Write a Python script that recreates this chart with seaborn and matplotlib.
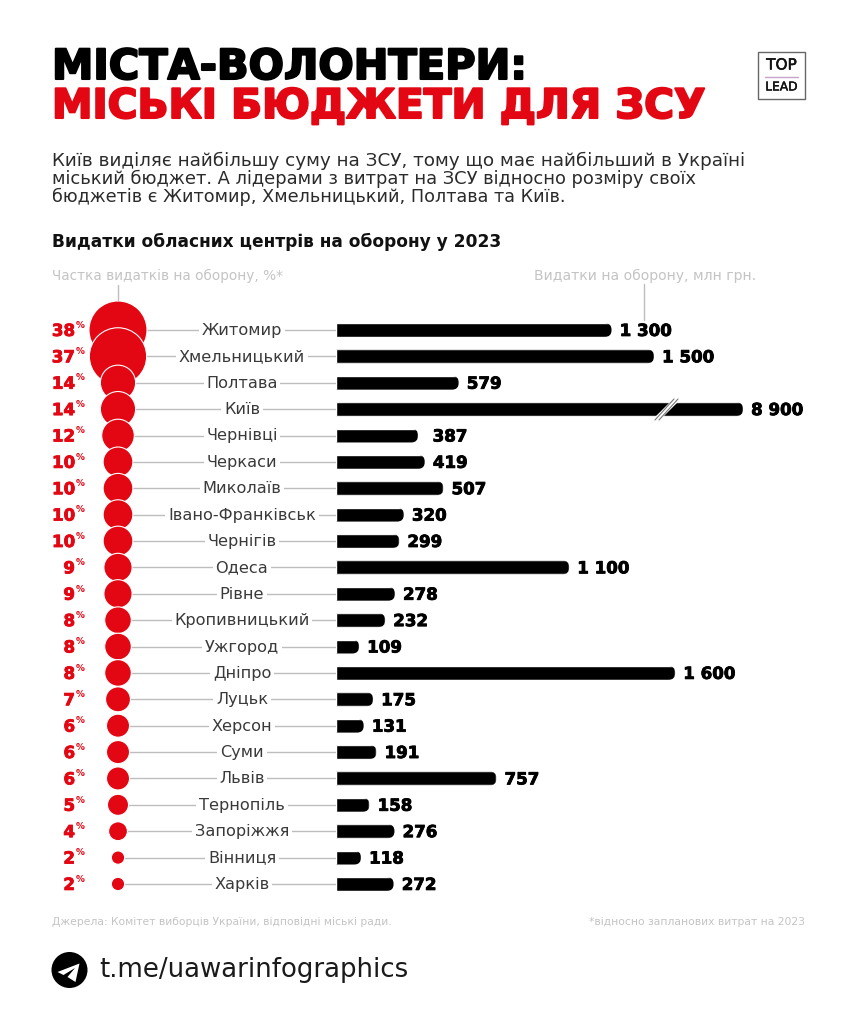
"""
Міста-волонтери: видатки обласних центрів на оборону у 2023.
Red bubbles show the defence share of the budget, black bars the spending.
"""

import matplotlib.pyplot as plt
import matplotlib.patheffects as pe
from matplotlib.patches import Circle, FancyBboxPatch, Polygon, Rectangle
from matplotlib.transforms import IdentityTransform
import numpy as np
import pandas as pd
import seaborn as sns

CITIES = ["Житомир", "Хмельницький", "Полтава", "Київ", "Чернівці", "Черкаси",
          "Миколаїв", "Івано-Франківськ", "Чернігів", "Одеса", "Рівне",
          "Кропивницький", "Ужгород", "Дніпро", "Луцьк", "Херсон", "Суми",
          "Львів", "Тернопіль", "Запоріжжя", "Вінниця", "Харків"]
SHARES = [38, 37, 14, 14, 12, 10, 10, 10, 10, 9, 9, 8, 8, 8, 7, 6, 6, 6, 5, 4, 2, 2]
SPENDING = [1300, 1500, 579, 8900, 387, 419, 507, 320, 299, 1100, 278, 232,
            109, 1600, 175, 131, 191, 757, 158, 276, 118, 272]

RED = "#e30613"
GREY_LABEL = "#c4c4c4"
GREY_LINE = "#bdbdbd"
DARK = "#3a3a3a"

W, H = 857, 1024
ROW_TOP, ROW_STEP = 330, 26.38
BAR_LEFT = 336
PX_PER_UNIT = 0.212  # bar length scale
BREAK_AT = 1920      # Kyiv's bar is cut, it would not fit
TEXT_NUDGE = -0.04   # row units, DejaVu sits a little low

sns.set_theme(style="white")
plt.rcParams["font.family"] = ["DejaVu Sans"]

df = pd.DataFrame({"city": CITIES, "share": SHARES, "spending": SPENDING})
df["drawn"] = np.minimum(df["spending"], BREAK_AT)

fig = plt.figure(figsize=(W / 100, H / 100), dpi=100, facecolor="white")

n = len(df)
top = ROW_TOP - ROW_STEP / 2
height = ROW_STEP * n
ax_bub = fig.add_axes([0, 1 - (top + height) / H, BAR_LEFT / W, height / H])
ax_bars = fig.add_axes([BAR_LEFT / W, 1 - (top + height) / H, 1 - BAR_LEFT / W, height / H])
ax_page = fig.add_axes([0, 0, 1, 1])

# bars
sns.barplot(data=df, y="city", x="drawn", color="black", saturation=1, width=0.53,
            orient="h", ax=ax_bars)
ax_bars.set_xlim(0, (W - BAR_LEFT) / PX_PER_UNIT)
ax_bars.set_ylim(n - 0.5, -0.5)
ax_bars.axis("off")

fig.canvas.draw()
for bar in ax_bars.patches:
    # round only the right end of each bar
    bb = bar.get_window_extent()
    r = bb.height / 2
    clip = FancyBboxPatch((bb.x0 - 2 * r, bb.y0), bb.width + 2 * r, bb.height,
                          boxstyle=f"round,pad=0,rounding_size={r}",
                          transform=IdentityTransform())
    bar.set_clip_path(clip)

for i, row in df.iterrows():
    label = f"{row['spending']:,}".replace(",", " ")
    gap = 10.5 if row["spending"] == 387 else 5.8
    ax_bars.annotate(label, (row["drawn"], i + TEXT_NUDGE), xytext=(gap, 0),
                     textcoords="offset points", ha="left", va="center_baseline",
                     fontsize=12, fontweight="bold", color="black", annotation_clip=False,
                     path_effects=[pe.withStroke(linewidth=0.6, foreground="black")])

# bubbles, leader lines, city names
ax_bub.hlines(range(n), 118, BAR_LEFT, color=GREY_LINE, lw=1, zorder=1)
sns.scatterplot(data=df, x=np.full(n, 118), y="city", size="share", sizes=(0, 1745),
                size_norm=(0, 38), color=RED, edgecolor="white", linewidth=0.8,
                legend=False, clip_on=False, zorder=3, ax=ax_bub)
ax_bub.set_xlim(0, BAR_LEFT)
ax_bub.set_ylim(n - 0.5, -0.5)
ax_bub.axis("off")

for i, row in df.iterrows():
    ax_bub.text(242, i + TEXT_NUDGE, row["city"], ha="center", va="center_baseline",
                fontsize=11.6, color=DARK, zorder=4,
                bbox=dict(fc="white", ec="none", pad=2))
    ax_bub.text(75, i + TEXT_NUDGE, str(row["share"]), ha="right", va="center_baseline",
                fontsize=12, fontweight="bold", color=RED, zorder=4,
                path_effects=[pe.withStroke(linewidth=0.6, foreground=RED)])
    ax_bub.annotate("%", (76, i + TEXT_NUDGE), xytext=(0, 3.4), textcoords="offset points",
                    ha="left", va="center_baseline", fontsize=6.4, fontweight="bold", color=RED)

# page furniture, in pixel coordinates
ax_page.set_xlim(0, W)
ax_page.set_ylim(H, 0)
ax_page.axis("off")

ax_page.text(52, 67, "МІСТА-ВОЛОНТЕРИ:", fontsize=29.9, fontweight="bold", color="black",
             va="center", path_effects=[pe.withStroke(linewidth=1.5, foreground="black")])
ax_page.text(52, 107, "МІСЬКІ БЮДЖЕТИ ДЛЯ ЗСУ", fontsize=29.3, fontweight="bold", color=RED,
             va="center", path_effects=[pe.withStroke(linewidth=1.5, foreground=RED)])

intro = ["Київ виділяє найбільшу суму на ЗСУ, тому що має найбільший в Україні",
         "міський бюджет. А лідерами з витрат на ЗСУ відносно розміру своїх",
         "бюджетів є Житомир, Хмельницький, Полтава та Київ."]
for y, size, line in zip([161, 179, 197], [13.2, 12.86, 12.7], intro):
    ax_page.text(52, y, line, fontsize=size, color="#2b2b2b", va="center")

ax_page.text(52, 242, "Видатки обласних центрів на оборону у 2023", fontsize=12.24,
             fontweight="bold", color="#111111", va="center")
ax_page.text(52, 276, "Частка видатків на оборону, %*", fontsize=9.77, color=GREY_LABEL, va="center")
ax_page.text(534, 276, "Видатки на оборону, млн грн.", fontsize=10.08, color=GREY_LABEL, va="center")
ax_page.plot([118.5, 118.5], [285, 300], color=GREY_LINE, lw=1)
ax_page.plot([644, 644], [284, 320], color=GREY_LINE, lw=1)

# break mark on the Kyiv bar
ax_page.plot([657, 676], [419, 400], color="white", lw=4, solid_capstyle="butt")
ax_page.plot([655, 674], [420, 399], color="#777777", lw=0.8)
ax_page.plot([659, 678], [420, 399], color="#777777", lw=0.8)

ax_page.text(52, 922, "Джерела: Комітет виборців України, відповідні міські ради.", fontsize=7.76,
             color=GREY_LABEL, va="center")
ax_page.text(805, 922, "*відносно запланових витрат на 2023", fontsize=7.76, color=GREY_LABEL,
             va="center", ha="right")

# logo
ax_page.add_patch(Rectangle((758, 52), 47, 47, fc="white", ec="#666666", lw=1))
ax_page.text(781.5, 65, "TOP", fontsize=11, ha="center", va="center", color="#111111",
             path_effects=[pe.withStroke(linewidth=0.4, foreground="#111111")])
ax_page.plot([765, 798], [77, 77], color="#c9a3c9", lw=1)
ax_page.text(781.5, 87, "LEAD", fontsize=8.8, ha="center", va="center", color="#111111",
             path_effects=[pe.withStroke(linewidth=0.3, foreground="#111111")])

# telegram link
ax_page.add_patch(Circle((69.5, 970), 18, fc="black", ec="none"))
ax_page.add_patch(Polygon([(57.5, 972), (79.5, 963.5), (75.5, 982), (67.5, 977), (75, 968), (63.5, 975)],
                          fc="white", ec="none"))
ax_page.text(99, 970, "t.me/uawarinfographics", fontsize=18.7, color="#1a1a1a", va="center")

fig.savefig("out.png", dpi=100, facecolor="white")
